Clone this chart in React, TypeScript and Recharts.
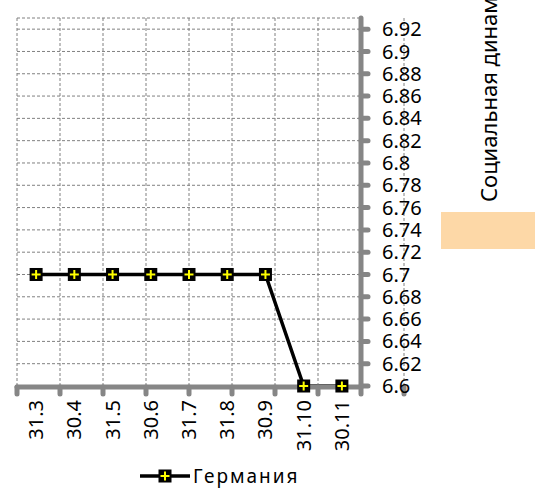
import React from 'react';
import { LineChart, Line, XAxis, YAxis, CartesianGrid, Legend } from 'recharts';

const categories = ['31.3', '30.4', '31.5', '30.6', '31.7', '31.8', '30.9', '31.10', '30.11'];
const germany = [6.7, 6.7, 6.7, 6.7, 6.7, 6.7, 6.7, 6.6, 6.6];
const yTicks = [6.6, 6.62, 6.64, 6.66, 6.68, 6.7, 6.72, 6.74, 6.76, 6.78, 6.8, 6.82, 6.84, 6.86, 6.88, 6.9, 6.92];
const boundaryTicks = [0, 1, 2, 3, 4, 5, 6, 7, 8, 9];
const seriesName = 'Германия';
const titleText = 'Социальная динамика';

const data = categories.map((c, i) => ({ cat: c, value: germany[i] }));

const FONT = '"Noto Sans", "Open Sans", sans-serif';
const AXIS = '#868686';

const Marker = (props: any) => {
  const { cx, cy } = props;
  if (cx == null || cy == null) return null;
  return (
    <g>
      <rect x={cx - 6.5} y={cy - 6.5} width={13} height={13} fill="#000" />
      <line x1={cx - 4.5} y1={cy} x2={cx + 4.5} y2={cy} stroke="#FFFF00" strokeWidth={2} />
      <line x1={cx} y1={cy - 4.5} x2={cx} y2={cy + 4.5} stroke="#FFFF00" strokeWidth={2} />
    </g>
  );
};

const XTick = (props: any) => {
  const { x, y, payload } = props;
  return (
    <text
      x={x}
      y={y}
      transform={`rotate(-90, ${x}, ${y})`}
      textAnchor="end"
      dy="0.35em"
      fontSize={20}
      fontFamily={FONT}
      fill="#000"
    >
      {payload.value}
    </text>
  );
};

const EmptyTick = () => <g />;

const LegendContent = () => (
  <div style={{ display: 'flex', justifyContent: 'flex-start', alignItems: 'center', height: 28, paddingLeft: 139 }}>
    <svg width={52} height={20}>
      <line x1={1} y1={10} x2={51} y2={10} stroke="#000" strokeWidth={3.5} />
      <Marker cx={26} cy={10} />
    </svg>
    <span style={{ fontFamily: FONT, fontSize: 19, letterSpacing: 2, marginLeft: 2, color: '#000' }}>{seriesName}</span>
  </div>
);

export default function App() {
  return (
    <div style={{ position: 'absolute', left: 0, top: 0, width: 546, height: 493, background: '#fff', overflow: 'hidden' }}>
      <LineChart width={546} height={493} data={data} margin={{ top: 18, right: 125, left: 17, bottom: 77 }}>
        <CartesianGrid
          xAxisId="b"
          stroke="#808080"
          strokeDasharray="3 2"
          strokeWidth={1}
        />
        <XAxis
          dataKey="cat"
          scale="band"
          height={1}
          axisLine={false}
          tickLine={false}
          tickSize={0}
          tickMargin={14}
          interval={0}
          tick={<XTick />}
        />
        <XAxis
          xAxisId="b"
          type="number"
          domain={[0, 9]}
          ticks={boundaryTicks}
          interval={0}
          height={1}
          tickSize={7}
          tick={<EmptyTick />}
          axisLine={{ stroke: AXIS, strokeWidth: 5, strokeLinecap: 'round' }}
          tickLine={{ stroke: AXIS, strokeWidth: 5, strokeLinecap: 'round' }}
        />
        <YAxis
          orientation="right"
          width={60}
          domain={[6.6, 6.93]}
          ticks={yTicks}
          interval={0}
          tickSize={7}
          tickMargin={14}
          tick={{ fontSize: 20, fontFamily: FONT, fill: '#000' }}
          axisLine={{ stroke: AXIS, strokeWidth: 5, strokeLinecap: 'round' }}
          tickLine={{ stroke: AXIS, strokeWidth: 5, strokeLinecap: 'round' }}
        />
        <Legend
          content={<LegendContent />}
          wrapperStyle={{ position: 'absolute', top: 462, left: 0, width: 546, height: 28 }}
        />
        <Line
          dataKey="value"
          name={seriesName}
          stroke="#000"
          strokeWidth={3.5}
          dot={<Marker />}
          activeDot={false}
          isAnimationActive={false}
        />
      </LineChart>
      <svg width={546} height={493} style={{ position: 'absolute', left: 0, top: 0, pointerEvents: 'none' }}>
        <text
          x={489}
          y={202}
          transform="rotate(-90, 489, 202)"
          textAnchor="start"
          dy="0.35em"
          fontSize={22}
          fontFamily={FONT}
          fill="#000"
        >
          {titleText}
        </text>
        <rect x={441} y={212} width={94} height={37} fill="#FDD8A7" />
      </svg>
    </div>
  );
}
